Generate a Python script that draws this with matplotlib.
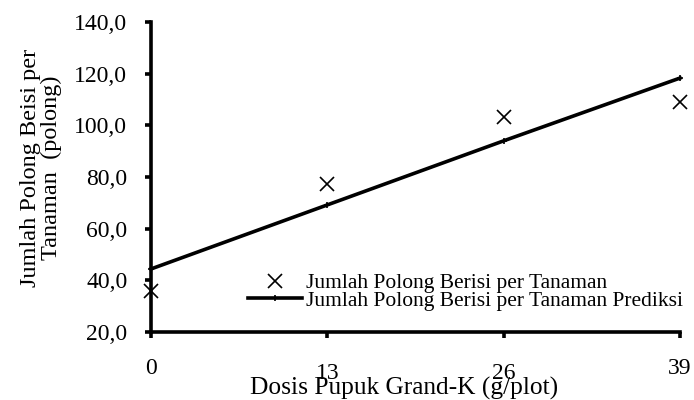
import matplotlib
matplotlib.use("Agg")
import matplotlib.pyplot as plt
from matplotlib.ticker import FuncFormatter

# data
dosis = [0, 13, 26, 39]
polong_obs = [35.9, 77.3, 103.2, 109.0]
polong_pred = [44.4, 69.2, 94.0, 118.3]
y_ticks = [20, 40, 60, 80, 100, 120, 140]

plt.rcParams['font.family'] = ['Liberation Serif', 'DejaVu Serif']

fig = plt.figure(figsize=(6.94, 4.0), dpi=100)
ax = fig.add_axes([151/694, 1 - 332/400, (680 - 151)/694, (332 - 22)/400])

ax.plot(dosis, polong_pred, color='black', lw=2.6, marker='+', ms=4, mew=1.2,
        label='Jumlah Polong Berisi per Tanaman Prediksi', zorder=3, clip_on=False)
ax.plot(dosis, polong_obs, ls='none', marker='x', ms=10, mew=1.2, color='black',
        label='Jumlah Polong Berisi per Tanaman', zorder=4, clip_on=False)

ax.set_xlim(0, 39)
ax.set_ylim(20, 140)
ax.set_xticks(dosis)
ax.set_yticks(y_ticks)
ax.yaxis.set_major_formatter(FuncFormatter(lambda v, p: ('%.1f' % v).replace('.', ',')))

for s in ['top', 'right']:
    ax.spines[s].set_visible(False)
for s in ['left', 'bottom']:
    ax.spines[s].set_linewidth(2.6)
ax.tick_params(axis='both', direction='out', length=4.5, width=2.6, labelsize=17)
ax.tick_params(axis='x', pad=14)
ax.tick_params(axis='y', pad=12.5)

ax.set_xlabel('Dosis Pupuk Grand-K (g/plot)', fontsize=18.3)
ax.xaxis.set_label_coords(0.479, -0.146)
ax.set_ylabel('Jumlah Polong Beisi per\nTanaman  (polong)', fontsize=17.5,
              multialignment='center', linespacing=1.0)
ax.yaxis.set_label_coords(-0.168, 0.529)

# the 13 and 26 labels sit a little lower in the reference
xt = ax.xaxis.get_major_ticks()
for t in xt[1:3]:
    t.set_pad(18)

h, l = ax.get_legend_handles_labels()
ax.legend(h[::-1], l[::-1], loc='upper left', bbox_to_anchor=(248/694, 1 - 273/400),
          bbox_transform=fig.transFigure, frameon=False, fontsize=15.5,
          handlelength=2.5, handletextpad=0.2, labelspacing=-0.12, borderpad=0,
          borderaxespad=0)

fig.savefig('out.png', dpi=100)
